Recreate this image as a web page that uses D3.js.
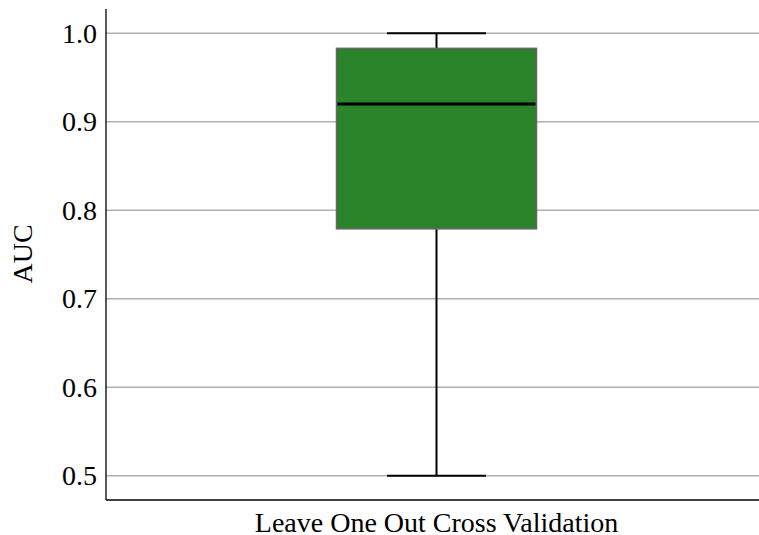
<!DOCTYPE html>
<html><head><meta charset="utf-8">
<script src="https://cdn.jsdelivr.net/npm/d3@7"></script>
<style>body{margin:0;background:#fff}</style>
</head><body>
<svg id="c" width="759" height="535"></svg>
<script>
const categories = ["Leave One Out Cross Validation"];
const mins = [0.5];
const q1s = [0.779];
const medians = [0.92];
const q3s = [0.983];
const maxs = [1.0];
const yTicks = [0.5, 0.6, 0.7, 0.8, 0.9, 1.0];

(function () {
const svg = d3.select("#c");
const W = 759, H = 535;
const mLeft = 106, mRight = 767, mTop = 9, mBottom = 500;
const font = "'Liberation Serif', 'Times New Roman', serif";

const y = d3.scaleLinear().domain([0.4725, 1.0275]).range([mBottom, mTop]);
const x = d3.scaleBand().domain(categories).range([mLeft, mRight]).paddingInner(0.35).paddingOuter(0.35);

svg.append("g").selectAll("line").data(yTicks).join("line")
  .attr("x1", mLeft).attr("x2", W)
  .attr("y1", d => y(d)).attr("y2", d => y(d))
  .attr("stroke", "#b0b0b0").attr("stroke-width", 1.5);

svg.append("line").attr("x1", mLeft).attr("x2", mLeft).attr("y1", mTop).attr("y2", mBottom)
  .attr("stroke", "#000").attr("stroke-width", 1.3);
svg.append("line").attr("x1", mLeft).attr("x2", W).attr("y1", mBottom).attr("y2", mBottom)
  .attr("stroke", "#000").attr("stroke-width", 1.3);

const yAxis = d3.axisLeft(y).tickValues(yTicks).tickFormat(d3.format(".1f")).tickSize(0).tickPadding(9);
const ga = svg.append("g").attr("transform", `translate(${mLeft},0)`).call(yAxis);
ga.select(".domain").remove();
ga.attr("font-family", font).attr("font-size", 28);
ga.selectAll("text").attr("font-family", font).attr("font-size", 28).attr("fill", "#000");

const boxW = 200, capW = 99;
categories.forEach((c, i) => {
  const cx = x(c) + x.bandwidth() / 2;
  const g = svg.append("g");
  g.append("line").attr("x1", cx).attr("x2", cx).attr("y1", y(maxs[i])).attr("y2", y(q3s[i]))
    .attr("stroke", "#000").attr("stroke-width", 2);
  g.append("line").attr("x1", cx).attr("x2", cx).attr("y1", y(q1s[i])).attr("y2", y(mins[i]))
    .attr("stroke", "#000").attr("stroke-width", 2);
  g.append("line").attr("x1", cx - capW / 2).attr("x2", cx + capW / 2).attr("y1", y(maxs[i])).attr("y2", y(maxs[i]))
    .attr("stroke", "#000").attr("stroke-width", 2);
  g.append("line").attr("x1", cx - capW / 2).attr("x2", cx + capW / 2).attr("y1", y(mins[i])).attr("y2", y(mins[i]))
    .attr("stroke", "#000").attr("stroke-width", 2);
  g.append("rect").attr("x", cx - boxW / 2).attr("width", boxW)
    .attr("y", y(q3s[i])).attr("height", y(q1s[i]) - y(q3s[i]))
    .attr("fill", "#2a842a").attr("stroke", "#666").attr("stroke-width", 1.5);
  g.append("line").attr("x1", cx - boxW / 2 + 1).attr("x2", cx + boxW / 2 - 1)
    .attr("y1", y(medians[i])).attr("y2", y(medians[i]))
    .attr("stroke", "#000").attr("stroke-width", 3);
  svg.append("text").attr("x", cx).attr("y", 532).attr("text-anchor", "middle")
    .attr("font-family", font).attr("font-size", 28).attr("fill", "#000").text(c);
});

svg.append("text").attr("transform", `translate(31.5,254) rotate(-90)`)
  .attr("text-anchor", "middle").attr("font-family", font).attr("font-size", 28).text("AUC");
})();
</script>
</body></html>
